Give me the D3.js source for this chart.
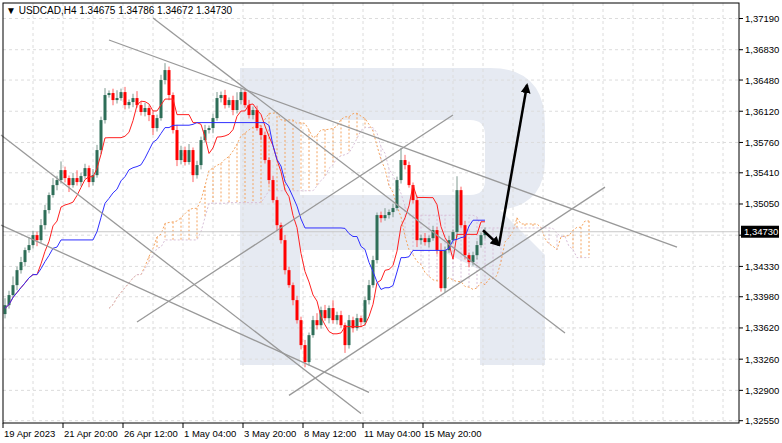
<!DOCTYPE html>
<html><head><meta charset="utf-8">
<script src="https://cdn.jsdelivr.net/npm/d3@7"></script>
<style>body{margin:0;background:#fff}svg{display:block;font-family:"Liberation Sans",Arial,sans-serif}</style>
</head><body><svg id="c" width="782" height="443"></svg>
<script>
const closes=[1.33883,1.33999,1.34114,1.34287,1.34380,1.34518,1.34576,1.34691,1.34633,1.34806,1.34980,1.35153,1.35268,1.35326,1.35441,1.35349,1.35268,1.35349,1.35303,1.35372,1.35464,1.35303,1.35383,1.35672,1.36018,1.36307,1.36330,1.36249,1.36272,1.36341,1.36191,1.36226,1.36272,1.36191,1.36111,1.36157,1.36076,1.35926,1.36041,1.36480,1.36595,1.36307,1.35903,1.35557,1.35672,1.35534,1.35672,1.35383,1.35499,1.35787,1.35903,1.35926,1.36041,1.36272,1.36307,1.36191,1.36249,1.36134,1.36249,1.36341,1.36191,1.36076,1.36134,1.35926,1.35845,1.35557,1.35326,1.35095,1.34806,1.34633,1.34287,1.34114,1.33941,1.33710,1.33422,1.33226,1.33537,1.33710,1.33652,1.33826,1.33733,1.33849,1.33710,1.33768,1.33652,1.33422,1.33710,1.33618,1.33733,1.33687,1.33941,1.34114,1.34403,1.34922,1.34887,1.34922,1.34957,1.35003,1.35326,1.35557,1.35499,1.35268,1.35095,1.34633,1.34656,1.34610,1.34656,1.34749,1.34518,1.34079,1.34518,1.34633,1.34726,1.35210,1.34806,1.34460,1.34380,1.34460,1.34576,1.34691,1.34730];
const firstOpen=1.33780;
const upWick=[8,5,10,4,6,3,9,5,4,7,6,3,8,5,10,4,3,6,9,4,5,3,7,6,4,8,3,5,9,4,6,3,5,8,4,6,3,5,4,6,8,4,3,6,5,4,7,3,5,4,6,3,5,7,4,6,3,5,9,4,3,6,4,5,3,4,3,5,4,3,6,4,3,5,4,6,3,5,8,4,6,3,9,4,5,3,6,4,5,3,4,6,5,3,4,8,3,5,4,14,6,4,3,5,4,6,3,5,4,8,4,5,3,16,4,5,3,4,5,3,5];
const dnWick=[5,4,3,6,4,5,3,4,7,3,5,4,3,6,4,5,8,3,4,5,3,6,4,3,5,4,3,6,4,3,5,4,6,3,4,5,7,8,4,3,5,6,4,7,5,4,3,8,4,5,3,4,6,3,5,4,3,6,4,5,3,4,5,3,6,4,5,3,6,4,5,3,6,4,5,6,4,3,5,4,3,6,4,5,3,9,4,5,3,6,4,5,3,4,5,3,4,6,3,4,5,3,4,8,5,4,6,3,5,4,5,3,4,6,3,5,6,4,5,3,4];
const yTicks=[1.37190,1.36830,1.36480,1.36120,1.35760,1.35410,1.35050,1.34690,1.34330,1.33980,1.33620,1.33260,1.32900,1.32550];
const xLabels=["19 Apr 2023","21 Apr 20:00","26 Apr 12:00","1 May 04:00","3 May 20:00","8 May 12:00","11 May 04:00","15 May 20:00"];
const xLabelBars=[-0.5,14.5,29.5,44.5,59.5,74.5,89.5,104.5];
// trend lines: [bar1, price1, bar2, price2]
const trend=[[26,1.36942,168,1.34553],[37,1.37195,140,1.33561],[-1,1.35845,89,1.32634],[-1,1.34807,91,1.32877],[33,1.33688,112,1.36076],[71,1.32842,150,1.35245]];
const arrows=[[119.5,1.34747,123.5,1.34576],[123.5,1.34576,130.5,1.36422]];
const header="▼ USDCAD,H4  1.34675 1.34786 1.34672 1.34730";
const pip=0.0001;

const svg=d3.select("#c");
const L=3,R=739,T=3,B=423;
const y=d3.scaleLinear().domain([1.32550,1.37190]).range([420.7,18.5]);
const x=d3.scaleLinear().domain([0,1]).range([5,9]);
const n=closes.length;
const data=closes.map((c,i)=>{const o=i?closes[i-1]:firstOpen;return{o,c,h:Math.max(o,c)+upWick[i]*pip,l:Math.min(o,c)-dnWick[i]*pip}});
svg.append("rect").attr("x",L).attr("y",T).attr("width",R-L).attr("height",B-T).attr("fill","#fff");
svg.append("path").attr("fill","#e6eaf2").attr("fill-rule","evenodd")
 .attr("d","M240,68 H490 Q545,68 545,125 V160 Q545,205 500,210 L545,255 V365 H480 V270 L440,250 H300 V365 H240 Z M300,120 V195 H470 Q485,195 485,180 V135 Q485,120 470,120 Z");
const g=svg.append("g").attr("stroke","#dcdcdc").attr("stroke-dasharray","3,3");
yTicks.forEach(t=>g.append("line").attr("x1",L).attr("x2",R).attr("y1",y(t)).attr("y2",y(t)));
for(let gx=33;gx<R;gx+=30)g.append("line").attr("x1",gx).attr("x2",gx).attr("y1",T).attr("y2",B);
const hh=(i,p)=>d3.max(data.slice(Math.max(0,i-p+1),i+1),d=>d.h),ll=(i,p)=>d3.min(data.slice(Math.max(0,i-p+1),i+1),d=>d.l);
const tenkan=data.map((d,i)=>(hh(i,9)+ll(i,9))/2), kijun=data.map((d,i)=>(hh(i,26)+ll(i,26))/2);
const spanA=data.map((d,i)=>(tenkan[i]+kijun[i])/2), spanB=data.map((d,i)=>(hh(i,52)+ll(i,52))/2);
const cl=svg.append("g").attr("stroke-dasharray","2,2").attr("stroke-width",1);
for(let i=0;i<n;i+=2){const a=spanA[i],b=spanB[i];const xi=x(i+26);
 cl.append("line").attr("x1",xi).attr("x2",xi).attr("y1",y(a)).attr("y2",y(b)).attr("stroke",a>=b?"#f4a460":"#d8bfd8");}
[[spanA,"#f4a460"],[spanB,"#d8bfd8"]].forEach(([s,col])=>svg.append("path").attr("fill","none").attr("stroke",col).attr("stroke-dasharray","2,2")
 .attr("d",d3.line().x((d,i)=>x(i+26)).y(d=>y(d))(s)));
svg.append("line").attr("x1",L).attr("x2",R).attr("y1",y(closes[n-1])).attr("y2",y(closes[n-1])).attr("stroke","#c8c8c8");
const cg=svg.append("g");
data.forEach((d,i)=>{const up=d.c>=d.o,col=up?"#2e6e58":"#ff0000";
 cg.append("line").attr("x1",x(i)).attr("x2",x(i)).attr("y1",y(d.h)).attr("y2",y(d.l)).attr("stroke",up?"#7f9a90":"#ff6060");
 cg.append("rect").attr("x",x(i)-1.5).attr("width",3).attr("y",y(Math.max(d.o,d.c))).attr("height",Math.max(1,Math.abs(y(d.o)-y(d.c)))).attr("fill",col);});
svg.append("path").attr("fill","none").attr("stroke","#ff2020").attr("d",d3.line().x((d,i)=>x(i)).y(d=>y(d))(tenkan));
svg.append("path").attr("fill","none").attr("stroke","#3030ff").attr("d",d3.line().x((d,i)=>x(i)).y(d=>y(d))(kijun));
trend.forEach(t=>svg.append("line").attr("x1",x(t[0])).attr("y1",y(t[1])).attr("x2",x(t[2])).attr("y2",y(t[3])).attr("stroke","#999").attr("stroke-width",1.3));
const defs=svg.append("defs");
defs.append("marker").attr("id","ah").attr("viewBox","0 0 10 10").attr("refX",8).attr("refY",5).attr("markerWidth",4).attr("markerHeight",4).attr("orient","auto")
 .append("path").attr("d","M0,0 L10,5 L0,10 Z").attr("fill","#000");
arrows.forEach(a=>svg.append("line").attr("x1",x(a[0])).attr("y1",y(a[1])).attr("x2",x(a[2])).attr("y2",y(a[3])).attr("stroke","#000").attr("stroke-width",2.5).attr("marker-end","url(#ah)"));
svg.append("rect").attr("x",L).attr("y",T).attr("width",R-L).attr("height",B-T).attr("fill","none").attr("stroke","#000");
const lp=closes[n-1];
yTicks.forEach(t=>{svg.append("line").attr("x1",R).attr("x2",R+4).attr("y1",y(t)).attr("y2",y(t)).attr("stroke","#000");
 if(Math.abs(y(t)-y(lp))>9)svg.append("text").attr("x",R+6).attr("y",y(t)+3.5).attr("font-size",9.5).text(t.toFixed(5).replace(".",","));});
svg.append("rect").attr("x",R+2).attr("y",y(lp)-6).attr("width",38).attr("height",12).attr("fill","#000");
svg.append("text").attr("x",R+5).attr("y",y(lp)+3.5).attr("font-size",9.5).attr("fill","#fff").text(lp.toFixed(5).replace(".",","));
xLabels.forEach((s,k)=>{const xx=x(xLabelBars[k]);
 svg.append("line").attr("x1",xx).attr("x2",xx).attr("y1",B).attr("y2",B+5).attr("stroke","#000");
 svg.append("text").attr("x",xx+1).attr("y",437).attr("font-size",9.5).text(s);});
svg.append("text").attr("x",6).attr("y",14).attr("font-size",10).text(header);
</script></body></html>
